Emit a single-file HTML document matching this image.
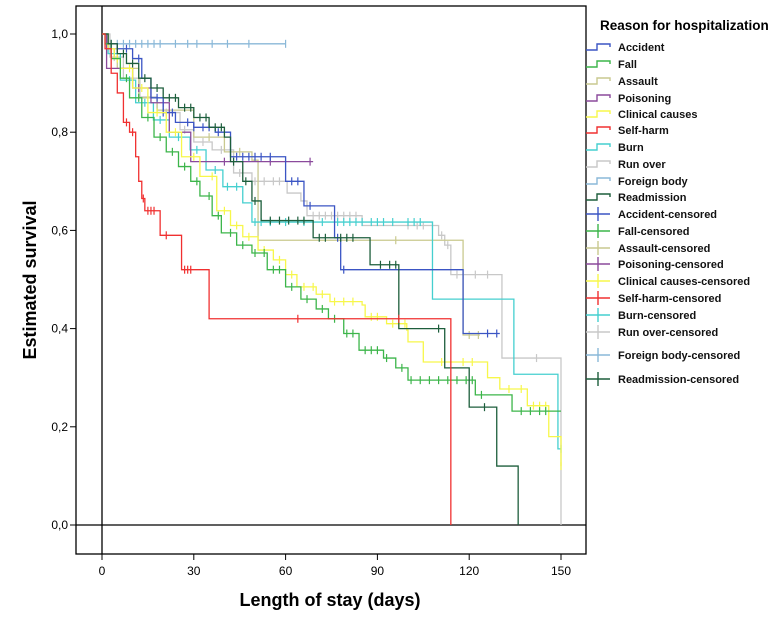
<!DOCTYPE html>
<html><head><meta charset="utf-8"><style>
body{margin:0;background:#fff;}
svg text{font-family:"Liberation Sans",sans-serif;}
</style></head><body>
<svg id="chart" width="781" height="625" viewBox="0 0 781 625" xmlns="http://www.w3.org/2000/svg">
<rect x="76" y="6" width="510" height="548" fill="none" stroke="#000" stroke-width="1.3"/>
<g id="axes"></g>
<g id="series"></g>
<text x="330" y="606" text-anchor="middle" font-size="18" font-weight="bold">Length of stay (days)</text>
<text transform="translate(36,280) rotate(-90)" text-anchor="middle" font-size="18" font-weight="bold">Estimated survival</text>
<text x="600" y="30" font-size="13.5" font-weight="bold">Reason for hospitalization</text>
<g id="legend"></g>
</svg>
<script>
const xTicks=[0,30,60,90,120,150];
const yTicks=[0,0.2,0.4,0.6,0.8,1.0];
const yTickLabels=["0,0","0,2","0,4","0,6","0,8","1,0"];
const names=["Accident","Fall","Assault","Poisoning","Clinical causes","Self-harm","Burn","Run over","Foreign body","Readmission"];
const colors=["#3b55c4","#3cb54a","#c9c98f","#8b4a9c","#f7f74a","#f03030","#45cfcf","#c8c8c8","#8ab8d8","#1d5e3c"];
const accDays=[2,5,10,13,16,20,24,30,37,42,60,66,76,78,118];
const accSurv=[0.98,0.97,0.95,0.91,0.87,0.84,0.82,0.81,0.80,0.75,0.70,0.65,0.585,0.52,0.39];
const accCens=[5,8,12,18,20,23,28,30,33,35,38,44,46,48,50,52,55,62,64,68,77,79,126,129];
const fallDays=[1,3,6,9,13,17,21,25,29,32,36,39,44,49,54,60,65,70,74,79,84,92,96,100,122,134];
const fallSurv=[0.98,0.95,0.91,0.87,0.83,0.79,0.76,0.73,0.70,0.67,0.63,0.595,0.57,0.554,0.52,0.485,0.46,0.44,0.42,0.39,0.356,0.34,0.32,0.295,0.265,0.232];
const fallCens=[8,12,15,19,23,27,31,35,38,42,46,50,53,56,58,62,67,72,76,80,82,86,88,90,93,98,101,104,107,110,113,116,119,121,124,137,140,143,145];
const asDays=[2,5,12,18,30,40,49,51,118];
const asSurv=[0.97,0.93,0.87,0.845,0.79,0.76,0.743,0.58,0.387];
const asCens=[20,35,45,96,120,123];
const poDays=[1.5,10,16,22,29];
const poSurv=[0.93,0.89,0.86,0.80,0.74];
const poCens=[12,20,40,55,68];
const clDays=[2,4,6,10,15,21,26,32,37.5,42,46,51,56,60,63.7,70,74.5,85,86,93,99.6,100,105,126,130,139,146,150];
const clSurv=[0.97,0.95,0.93,0.89,0.84,0.80,0.75,0.71,0.64,0.61,0.587,0.56,0.54,0.51,0.485,0.47,0.455,0.448,0.424,0.41,0.397,0.373,0.332,0.30,0.277,0.243,0.18,0.12];
const clCens=[5,9,13,18,24,30,36,40,44,48,53,58,62,66,69,72,76,79,82,88,90,95,97,99,111,118,121,133,137,141,143,145,150];
const shDays=[1,3,5,7,9,11,12,13,14,19,26,35,114];
const shSurv=[0.97,0.92,0.88,0.82,0.80,0.75,0.70,0.665,0.64,0.59,0.52,0.42,0];
const shCens=[8,10,13.5,15,16,17,21,27,28,29,64,97];
const buDays=[2,6,11,16.8,22,28.8,34,39.5,46,49,108,134.6,149];
const buSurv=[0.96,0.906,0.86,0.825,0.79,0.764,0.723,0.689,0.656,0.617,0.46,0.307,0.155];
const buCens=[4,9,14,19,25,31,37,41,44,50,52,55,60,66,72,77,79,81,83,85,88,90,92,95,100,102,104,150];
const roDays=[2.6,7,12.4,18,25.5,30,36,43,49,60.5,65,67,85,110,112,114,130.7,150];
const roSurv=[0.953,0.91,0.872,0.84,0.805,0.78,0.764,0.717,0.70,0.676,0.66,0.63,0.61,0.59,0.57,0.51,0.34,0];
const roCens=[4,10,15,21,27,33,39,45,50,53,56,58,69,71,73,75,77,79,81,83,100,103,105,108,111,113,116,118,122,126,142];
const fbDays=[2];
const fbSurv=[0.98];
const fbCens=[3,5,7,9,11,13,15,17,19,24,28,31,36,41,48,60];
const reDays=[2,5,8,12,16,20,25,30,35,40,42,46,49,52,69,87.6,97,112,120,129,136];
const reSurv=[0.98,0.96,0.94,0.91,0.89,0.87,0.85,0.83,0.81,0.79,0.74,0.70,0.66,0.62,0.585,0.53,0.40,0.32,0.24,0.12,0];
const reCens=[3,7,10,14,18,22,24,27,29,32,34,37,39,43,47,50,55,58,61,64,66,71,73,78,80,82,91,94,96,110,125];
const endDays=[130,150,123.5,69,150,114,150,150,60,136];

const X=d=>102+3.06*d, Y=s=>525-491*s;
const NS="http://www.w3.org/2000/svg";
function mk(tag,attrs,parent){const e=document.createElementNS(NS,tag);for(const k in attrs)e.setAttribute(k,attrs[k]);parent.appendChild(e);return e;}
const axes=document.getElementById('axes');
let l=mk('line',{x1:X(0),y1:6,x2:X(0),y2:554,stroke:'#000','stroke-width':1.3},axes);


l=mk('line',{x1:76,y1:Y(0),x2:586,y2:Y(0),stroke:'#000','stroke-width':1.3},axes);


xTicks.forEach(t=>{
  const tk=mk('line',{x1:X(t),y1:554,x2:X(t),y2:560,stroke:'#000'},axes);
  
  
  const tx=mk('text',{x:X(t),y:575,'text-anchor':'middle','font-size':12},axes);
  
  
  tx.textContent=t;
});
yTicks.forEach((t,i)=>{
  const tk=mk('line',{x1:70,y1:Y(t),x2:76,y2:Y(t),stroke:'#000'},axes);
  
  
  const tx=mk('text',{x:68,y:Y(t)+4,'text-anchor':'end','font-size':12},axes);
  
  
  tx.textContent=yTickLabels[i];
});
const allDays=[accDays,fallDays,asDays,poDays,clDays,shDays,buDays,roDays,fbDays,reDays];
const allSurv=[accSurv,fallSurv,asSurv,poSurv,clSurv,shSurv,buSurv,roSurv,fbSurv,reSurv];
const allCens=[accCens,fallCens,asCens,poCens,clCens,shCens,buCens,roCens,fbCens,reCens];
const ser=document.getElementById('series');
function survAt(i,d){let s=1;allDays[i].forEach((dd,j)=>{if(dd<=d)s=allSurv[i][j];});return s;}
const order=[8,7,2,6,3,0,4,1,9,5];
order.forEach(i=>{
  const g=mk('g',{},ser);
  
  
  let d='M'+X(0)+' '+Y(1);
  allDays[i].forEach((dd,j)=>{d+=' H'+X(dd)+' V'+Y(allSurv[i][j]);});
  d+=' H'+X(endDays[i]);
  const p=mk('path',{d:d,fill:'none',stroke:colors[i],'stroke-width':1.3},g);
  
  
  allCens[i].forEach(c=>{
    const y=Y(survAt(i,c));
    const m=mk('line',{x1:X(c),y1:y-4,x2:X(c),y2:y+4,stroke:colors[i],'stroke-width':1.2},g);
    
    
  });
});
const leg=document.getElementById('legend');
const ly=[47,64,81,98,114,130,147,164,181,197,214,231,248,264,281,298,315,332,355,379];
ly.forEach((y,k)=>{
  const i=k%10;
  const g=mk('g',{},leg);
  
  
  if(k<10){
    mk('path',{d:`M586 ${y+3} H597 V${y-3} H610 V${y}`,fill:'none',stroke:colors[i],'stroke-width':1.4},g);
  }else{
    mk('line',{x1:586,y1:y,x2:610,y2:y,stroke:colors[i],'stroke-width':1.4},g);
    mk('line',{x1:598,y1:y-7,x2:598,y2:y+7,stroke:colors[i],'stroke-width':1.4},g);
  }
  const t=mk('text',{x:618,y:y+4,'font-size':11,'font-weight':'bold',fill:'#111'},g);
  t.textContent=names[i]+(k<10?'':'-censored');
});
</script>
</body></html>
